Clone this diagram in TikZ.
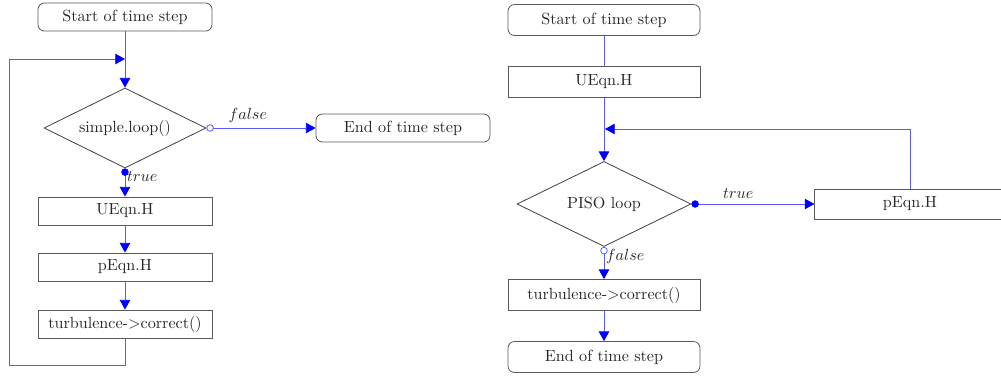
\documentclass[tikz,border=0pt]{standalone}
\usetikzlibrary{shapes.geometric,arrows.meta}
\begin{document}
\begin{tikzpicture}[x=0.62pt,y=-0.62pt,
  every node/.style={text=black!85, font=\normalsize},
  termbox/.style={draw=black!65, rounded corners=4pt, line width=0.5pt, minimum width=#1, minimum height=17.4pt, inner sep=0pt},
  termbox/.default=107.9pt,
  procbox/.style={draw=black!65, line width=0.5pt, minimum width=#1, minimum height=17.4pt, inner sep=0pt},
  procbox/.default=107.9pt,
  decbox/.style={draw=black!75, diamond, aspect=2, line width=0.5pt, inner sep=0pt},
  conn/.style={draw=blue!65, line width=0.5pt},
  arr/.style={conn, -{Triangle[color=blue,length=6pt,width=6.5pt]}},
  oarr/.style={conn, {Circle[open,color=blue!65,length=4.6pt]}-{Triangle[color=blue,length=6pt,width=6.5pt]}},
  farr/.style={conn, {Circle[color=blue,length=4.6pt]}-{Triangle[color=blue,length=6pt,width=6.5pt]}},
  lbl/.style={font=\normalsize, text=black!85}
]
\useasboundingbox (0,0) rectangle (1001,376);

% ---------- left flowchart ----------
\node[termbox] (ls) at (125,17) {Start of time step};
\node[decbox, minimum width=100.4pt, minimum height=49.6pt] (ld) at (125,128) {simple.loop()};
\node[termbox] (le) at (403,128) {End of time step};
\node[procbox] (lu) at (125,211) {UEqn.H};
\node[procbox] (lp) at (125,267) {pEqn.H};
\node[procbox] (lt) at (125,324) {turbulence->correct()};
\coordinate (lj) at (125,59);
\coordinate (lc) at (9,365);

\draw[arr] (ls.south) -- (ld.north);
\draw[oarr] (ld.east) -- node[lbl, above, pos=0.38] {$false$} (le.west);
\draw[farr] (ld.south) -- node[lbl, right, pos=0.3, inner sep=1pt] {$true$} (lu.north);
\draw[arr] (lu) -- (lp);
\draw[arr] (lp) -- (lt);
\draw[arr] (lt.south) |- (lc) |- (lj);

% ---------- right flowchart ----------
\node[termbox=119pt, minimum height=19.2pt] (rs) at (604,20) {Start of time step};
\node[procbox=119pt, minimum height=19.2pt] (ru) at (604,82) {UEqn.H};
\node[decbox, minimum width=107.9pt, minimum height=52.7pt] (rd) at (604,204) {PISO loop};
\node[procbox=118pt, minimum height=18.6pt] (rp) at (910,204) {pEqn.H};
\node[procbox=119pt, minimum height=19.2pt] (rt) at (604,295) {turbulence->correct()};
\node[termbox=119pt, minimum height=19.2pt] (re) at (604,357) {End of time step};
\coordinate (rj) at (605,129);

\draw[conn] (rs) -- (ru);
\draw[arr] (ru.south) -- (rd.north);
\draw[farr] (rd.east) -- node[lbl, above, pos=0.38] {$true$} (rp.west);
\draw[arr] (rp.north) |- (rj);
\draw[oarr] (rd.south) -- node[lbl, right, pos=0.3, inner sep=1pt] {$false$} (rt.north);
\draw[arr] (rt) -- (re);
\end{tikzpicture}
\end{document}
